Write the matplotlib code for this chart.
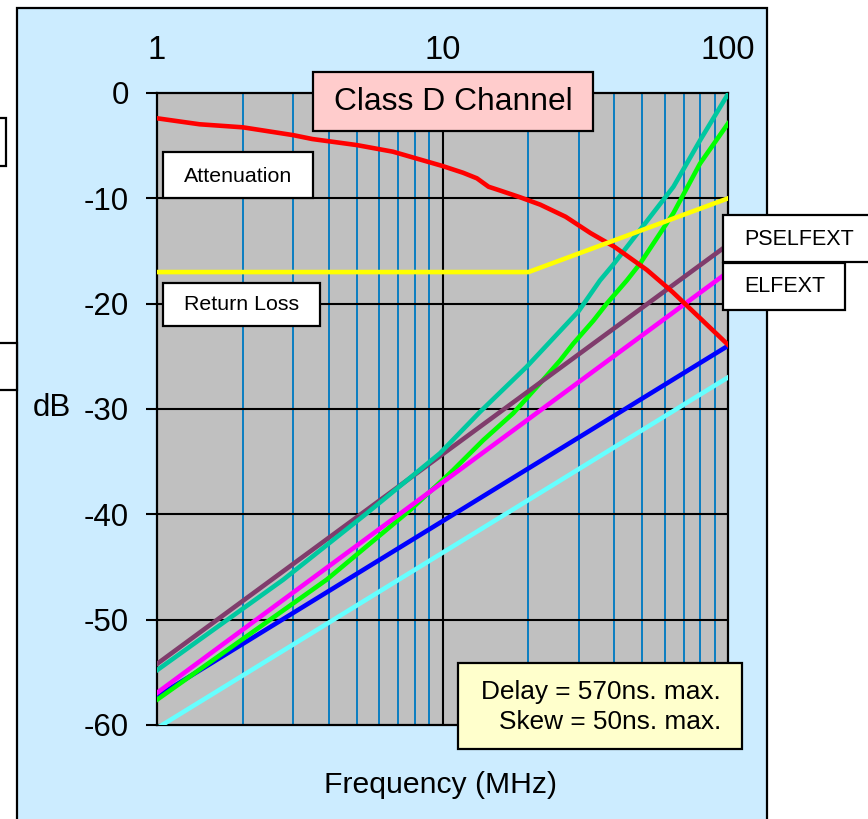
import matplotlib
matplotlib.use('Agg')

import matplotlib.pyplot as plt
from matplotlib.patches import Rectangle

plt.rcParams['font.family'] = ['Liberation Sans', 'DejaVu Sans']

# data (frequency in MHz, level in dB)
att_freq = [1, 1.41, 2, 3, 3.5, 5, 6.7, 10, 11.8, 13.2, 14.5, 16, 18.7, 22, 27, 33, 40, 52, 64, 100]
att_db = [-2.4, -2.97, -3.26, -4.0, -4.37, -4.94, -5.57, -6.93, -7.57, -8.1, -8.9, -9.28,
          -9.9, -10.6, -11.75, -13.3, -14.6, -16.8, -18.9, -23.9]

rl_freq = [1, 20, 100]
rl_db = [-17, -17, -10]

teal_freq = [1, 2.77, 5.43, 9.8, 13.5, 19.7, 25, 30, 35.6, 39.6, 49.2, 64.4, 79.8, 100]
teal_db = [-54.8, -46.2, -39.9, -34.2, -30.3, -26.0, -23.0, -20.7, -17.8, -16.3, -13.0, -8.9, -4.5, -0.1]

green_freq = [1, 3.93, 7.7, 10.9, 13.9, 17.7, 21.9, 25.8, 28.7, 33.8, 37.6, 44.2, 49.2, 64.4, 79.8, 100]
green_db = [-57.6, -46.2, -39.6, -35.8, -32.95, -30.4, -27.6, -25.4, -23.8, -21.6, -20.0,
            -17.8, -16.2, -11.4, -6.7, -2.9]

line_freq = [1, 100]
pself_db = [-54.2, -14.4]
elfext_db = [-56.95, -17.0]
blue_db = [-57.3, -24.0]
cyan_db = [-60.3, -27.0]

W, H = 868, 819
fig = plt.figure(figsize=(W / 100, H / 100), dpi=100)
fig.patch.set_facecolor('white')


def fx(px):
    return px / W


def fy(py):
    return 1 - py / H


def box(x0, y0, x1, y1, fc, z=5):
    r = Rectangle((fx(x0), fy(y1)), fx(x1) - fx(x0), fy(y0) - fy(y1),
                  transform=fig.transFigure, facecolor=fc, edgecolor='black',
                  linewidth=1.6, zorder=z)
    fig.add_artist(r)


# light blue panel
box(17, 8, 767, 830, '#CCECFF', z=-1)
# cut-off boxes on the left
box(-10, 118, 6, 166, 'white', z=-0.5)
box(-10, 343, 17, 390, 'white', z=-0.5)

ax = fig.add_axes([fx(157), fy(725), fx(728) - fx(157), fy(93) - fy(725)])
ax.set_facecolor('#C0C0C0')
ax.set_xscale('log')
ax.set_xlim(1, 100)
ax.set_ylim(-60, 0)

for f in list(range(2, 10)) + list(range(20, 100, 10)):
    ax.axvline(f, color='#0A7EC2', lw=1.4, zorder=1)
ax.axvline(10, color='black', lw=1.5, zorder=1)
for v in range(-50, 0, 10):
    ax.axhline(v, color='black', lw=1.5, zorder=1)

lw = 3.3
ax.plot(line_freq, cyan_db, color='#66FFFF', lw=lw, zorder=3)
ax.plot(line_freq, blue_db, color='#0000FF', lw=lw, zorder=3)
ax.plot(green_freq, green_db, color='#00FF00', lw=lw, zorder=3)
ax.plot(line_freq, elfext_db, color='#FF00FF', lw=lw, zorder=3)
ax.plot(line_freq, pself_db, color='#803C6C', lw=lw, zorder=3)
ax.plot(teal_freq, teal_db, color='#00C8A0', lw=lw, zorder=3)
ax.plot(att_freq, att_db, color='#FF0000', lw=lw, zorder=3)
ax.plot(rl_freq, rl_db, color='#FFFF00', lw=lw, zorder=3)

ax.xaxis.tick_top()
ax.set_xticks([1, 10, 100])
ax.set_xticklabels(['1', '10', '100'])
ax.xaxis.set_minor_locator(matplotlib.ticker.NullLocator())
ax.tick_params(axis='x', length=0, pad=19.5, labelsize=23.5)
ax.set_yticks(range(-60, 1, 10))
ax.set_yticklabels([str(v) for v in range(-60, 1, 10)])
ax.tick_params(axis='y', direction='out', length=8, width=1.5, pad=12, labelsize=22.5)
for s in ax.spines.values():
    s.set_linewidth(1.6)
    s.set_color('black')

fig.text(fx(52), fy(408), 'dB', fontsize=22.5, ha='center', va='center')
fig.text(fx(441), fy(785), 'Frequency (MHz)', fontsize=21.7, ha='center', va='center')

# boxed labels
box(313, 72, 593, 131, '#FFCCCC')
fig.text(fx(453), fy(102), 'Class D Channel', fontsize=22.9, ha='center', va='center', zorder=6)

box(163, 152, 313, 198, 'white')
fig.text(fx(238), fy(176), 'Attenuation', fontsize=15.4, ha='center', va='center', zorder=6)

box(163, 283, 320, 326, 'white')
fig.text(fx(242), fy(304), 'Return Loss', fontsize=15.4, ha='center', va='center', zorder=6)

box(723, 215, 880, 262, 'white')
fig.text(fx(744), fy(239), 'PSELFEXT', fontsize=15.5, ha='left', va='center', zorder=6)

box(723, 263, 845, 310, 'white')
fig.text(fx(744), fy(287), 'ELFEXT', fontsize=15.5, ha='left', va='center', zorder=6)

box(458, 663, 742, 749, '#FFFFCC')
fig.text(fx(721), fy(692), 'Delay = 570ns. max.', fontsize=18.9, ha='right', va='center', zorder=6)
fig.text(fx(721), fy(722), 'Skew = 50ns. max.', fontsize=18.9, ha='right', va='center', zorder=6)

fig.savefig('out.png', dpi=100)
plt.close(fig)
